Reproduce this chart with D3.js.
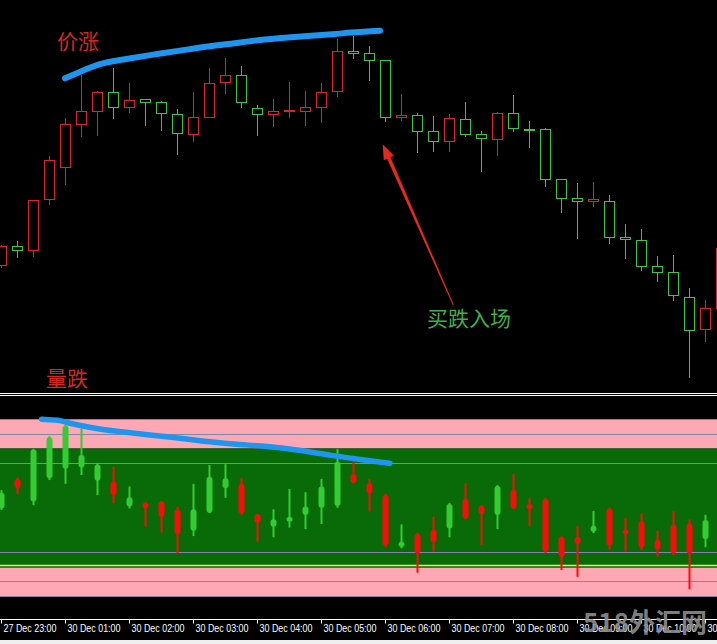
<!DOCTYPE html>
<html><head><meta charset="utf-8">
<script src="https://cdn.jsdelivr.net/npm/d3@7"></script>
<style>html,body{margin:0;padding:0;background:#000;overflow:hidden}svg{display:block}</style>
</head><body><svg id="c" width="717" height="644"></svg>
<script>
// ---------- data ----------
const timeLabels = ["27 Dec 23:00","30 Dec 01:00","30 Dec 02:00","30 Dec 03:00","30 Dec 04:00","30 Dec 05:00",
  "30 Dec 06:00","30 Dec 07:00","30 Dec 08:00","30 Dec 09:00","30 Dec 10:00","30 Dec 11:00"];
const tickIndex = [0,4,8,12,16,20,24,28,32,36,40,44];

const priceOpen  = [1.1135,1.1154,1.1150,1.1201,1.1233,1.1276,1.1289,1.1308,1.1293,1.1301,1.1298,1.1286,1.1266,1.1283,1.1318,1.1325,
  1.1292,1.1286,1.1289,1.1289,1.1293,1.1309,1.1349,1.1347,1.1340,1.1283,1.1285,1.1269,1.1259,1.1281,1.1266,1.1261,1.1287,1.1271,
  1.1271,1.1221,1.1202,1.1199,1.1199,1.1163,1.1160,1.1134,1.1128,1.1103,1.1071,1.1092];
const priceHigh  = [1.1155,1.1159,1.1200,1.1244,1.1282,1.1325,1.1309,1.1332,1.1317,1.1301,1.1299,1.1291,1.1308,1.1332,1.1342,1.1334,
  1.1295,1.1301,1.1318,1.1309,1.1317,1.1361,1.1364,1.1354,1.1340,1.1306,1.1287,1.1284,1.1286,1.1298,1.1269,1.1288,1.1305,1.1279,
  1.1272,1.1221,1.1217,1.1218,1.1205,1.1176,1.1171,1.1144,1.1145,1.1112,1.1100,1.1160];
const priceLow   = [1.1132,1.1142,1.1143,1.1195,1.1215,1.1263,1.1264,1.1281,1.1287,1.1274,1.1269,1.1245,1.1258,1.1283,1.1306,1.1292,
  1.1264,1.1273,1.1282,1.1274,1.1277,1.1303,1.1341,1.1319,1.1278,1.1279,1.1247,1.1248,1.1248,1.1263,1.1228,1.1244,1.1268,1.1252,
  1.1213,1.1187,1.1161,1.1193,1.1156,1.1141,1.1129,1.1118,1.1099,1.1022,1.1058,1.1090];
const priceClose = [1.1154,1.1150,1.1200,1.1240,1.1276,1.1289,1.1308,1.1293,1.1300,1.1298,1.1287,1.1267,1.1283,1.1317,1.1325,1.1298,
  1.1286,1.1289,1.1290,1.1293,1.1308,1.1349,1.1347,1.1340,1.1283,1.1285,1.1269,1.1259,1.1282,1.1266,1.1262,1.1287,1.1272,1.1270,
  1.1221,1.1202,1.1199,1.1201,1.1163,1.1161,1.1134,1.1128,1.1105,1.1070,1.1092,1.1152];

const oscOpen  = [0.50,0.65,1.97,2.38,2.77,1.78,1.46,0.42,0.35,-0.03,-0.31,-0.90,-0.06,1.04,0.99,-0.20,-0.52,-0.40,-0.31,0.03,0.71,1.55,
  0.84,0.48,-1.29,-1.16,-1.55,-1.18,0.12,-0.37,-0.22,0.73,-0.03,-0.05,-1.50,-1.67,-1.24,-0.62,-1.29,-0.90,-1.36,-1.42,-1.55,-1.55,-0.42];
const oscHigh  = [0.59,1.02,1.99,2.42,2.80,2.68,1.51,1.38,0.71,0.19,0.22,0.03,0.80,1.44,1.47,0.99,-0.22,-0.06,0.63,0.52,0.97,1.98,
  1.61,0.97,0.46,-0.57,-0.86,-0.31,0.15,0.82,0.08,0.76,1.13,0.31,0.32,-0.97,-0.62,-0.12,0.00,-0.35,-0.20,-0.79,-0.12,-0.40,-0.25];
const oscLow   = [-0.08,0.45,0.08,0.93,0.80,1.10,0.42,0.14,-0.03,-0.65,-0.85,-1.55,-0.97,-0.19,0.33,-0.25,-1.16,-1.01,-0.68,-0.73,-0.56,-0.01,
  0.82,-0.14,-1.35,-1.38,-2.21,-1.50,-1.01,-0.40,-1.27,-0.73,-0.06,-0.62,-1.55,-2.12,-2.35,-0.87,-1.42,-1.50,-1.44,-1.67,-1.61,-2.77,-1.35];
const oscClose = [-0.03,0.97,0.20,0.99,1.31,1.36,0.91,0.87,0.03,0.16,0.20,-0.08,-0.79,-0.18,0.65,0.80,-0.23,-0.65,-0.48,-0.25,-0.01,0.05,
  1.13,0.82,0.42,-1.33,-0.90,-0.76,-0.71,0.29,0.06,-0.25,0.59,0.11,0.29,-0.99,-0.99,-0.82,-0.03,-0.76,-0.46,-1.10,-0.59,-0.54,-1.08];

const oscGrayLevels = [3, 2.5, 1.5, -1.5, -2.5, -3];
const oscYellowLevel = -1.95;
const oscBand = [2.0, -2.04];

// annotations (index, value)
const priceTrendLine = [[4.0,1.13217],[4.94,1.13283],[6.19,1.13367],[7.44,1.1340],[9.31,1.1345],[11.19,1.13493],[13.06,1.1354],
  [14.94,1.13573],[16.38,1.13607],[18.5,1.13633],[21,1.1366],[21.63,1.13673],[23.69,1.13693]];
const oscTrendLine = [[2.54,2.99],[3.69,2.97],[4.11,2.87],[5.36,2.74],[6.19,2.65],[7.44,2.57],[9.31,2.46],[11.19,2.35],[13.06,2.22],
  [14.94,2.13],[16.6,2.08],[18.48,1.96],[20.56,1.77],[22.64,1.61],[24.31,1.50]];
const arrowTip = [23.86, 1.12557], arrowTail = [28.27, 1.1095];

// ---------- drawing ----------
const W = 717, H = 644;
const svg = d3.select("#c");
svg.append("rect").attr("width",W).attr("height",H).attr("fill","#000");

const x = d3.scaleLinear().domain([0,45]).range([1,721]);
const y = d3.scaleLinear().domain([1.1000,1.1400]).range([400,0]);
const yo = d3.scaleLinear().domain([-3,3]).range([596,419]);

const RED = "#d8262a", GREEN = "#3fc43f";
const candles = d3.range(priceOpen.length).map(i => ({i, o:priceOpen[i], h:priceHigh[i], l:priceLow[i], c:priceClose[i]}));

const gTop = svg.append("g");
const cg = gTop.selectAll("g.cdl").data(candles).join("g");
const px = v => Math.round(v) + 0.5;
cg.append("line")
  .attr("x1", d => Math.round(x(d.i)) + 0.5).attr("x2", d => Math.round(x(d.i)) + 0.5)
  .attr("y1", d => Math.round(y(d.h))).attr("y2", d => Math.round(y(d.l)))
  .attr("stroke", d => d.c >= d.o ? RED : GREEN).attr("stroke-width",1);
cg.append("rect")
  .attr("x", d => Math.round(x(d.i)) - 4.5).attr("width", 10)
  .attr("y", d => px(y(Math.max(d.o,d.c))))
  .attr("height", d => Math.max(1, Math.round(y(Math.min(d.o,d.c))) - Math.round(y(Math.max(d.o,d.c)))))
  .attr("fill","#000").attr("stroke", d => d.c >= d.o ? RED : GREEN).attr("stroke-width",1);

// separator lines
[393.5, 395.5].forEach(v => svg.append("line").attr("x1",0).attr("x2",W).attr("y1",v).attr("y2",v).attr("stroke","#fff").attr("stroke-width",1));

// oscillator panel
const bot = svg.append("g");
bot.append("rect").attr("x",0).attr("width",W).attr("y",yo(3)).attr("height",yo(oscBand[0])-yo(3)).attr("fill","#ffa8b5");
bot.append("rect").attr("x",0).attr("width",W).attr("y",yo(oscBand[0])).attr("height",yo(oscBand[1])-yo(oscBand[0])).attr("fill","#086b08");
bot.append("rect").attr("x",0).attr("width",W).attr("y",yo(oscBand[1])).attr("height",yo(-3)-yo(oscBand[1])).attr("fill","#ffa8b5");
bot.selectAll("line.lvl").data(oscGrayLevels).join("line")
  .attr("x1",0).attr("x2",W).attr("y1",d=>px(yo(d))).attr("y2",d=>px(yo(d)))
  .attr("stroke","#7f86a6").attr("stroke-width",1);
bot.append("line").attr("x1",0).attr("x2",W).attr("y1",px(yo(oscYellowLevel))).attr("y2",px(yo(oscYellowLevel)))
  .attr("stroke","#e4f35c").attr("stroke-width",1.3);

const OR = "#ff0a0a", OG = "#33cc33";
const osc = d3.range(oscOpen.length).map(i => ({i, o:oscOpen[i], h:oscHigh[i], l:oscLow[i], c:oscClose[i]}));
const og = bot.selectAll("g.osc").data(osc).join("g");
og.append("rect")
  .attr("x", d => Math.round(x(d.i)) - 0.5).attr("width", 2)
  .attr("y", d => yo(d.h)).attr("height", d => yo(d.l) - yo(d.h))
  .attr("fill", d => d.c >= d.o ? OR : OG);
og.append("rect")
  .attr("x", d => Math.round(x(d.i)) - 2.5).attr("width", 6).attr("rx", 3)
  .attr("y", d => yo(Math.max(d.o,d.c))).attr("height", d => Math.max(4, yo(Math.min(d.o,d.c)) - yo(Math.max(d.o,d.c))))
  .attr("fill", d => d.c >= d.o ? OR : OG);

// x axis
svg.append("line").attr("x1",0).attr("x2",W).attr("y1",619.5).attr("y2",619.5).attr("stroke","#fff");
const ax = svg.append("g").attr("transform","translate(0,619.5)")
  .call(d3.axisBottom(x).tickValues(tickIndex).tickFormat((d,i)=>timeLabels[i]).tickSize(4).tickSizeOuter(0));
ax.select(".domain").remove();
ax.selectAll(".tick line").attr("stroke","#fff");
ax.selectAll(".tick text").attr("fill","#fff").attr("text-anchor","start").attr("x",2).attr("y",5).attr("dy","0.71em")
  .attr("font-family","Liberation Sans, Arial, sans-serif").attr("font-size","10.5px")
  .attr("textLength",53).attr("lengthAdjust","spacingAndGlyphs");

// annotations
const BLUE = "#1e96f0";
const lineGen = (ys) => d3.line().x(d=>x(d[0])).y(d=>ys(d[1])).curve(d3.curveBasis);
svg.append("path").attr("d", lineGen(y)(priceTrendLine)).attr("fill","none").attr("stroke",BLUE)
  .attr("stroke-width",6).attr("stroke-linecap","round").attr("stroke-linejoin","round");
svg.append("path").attr("d", lineGen(yo)(oscTrendLine)).attr("fill","none").attr("stroke",BLUE)
  .attr("stroke-width",5.5).attr("stroke-linecap","round").attr("stroke-linejoin","round");

// arrow
(function(){
  const T = [x(arrowTip[0]), y(arrowTip[1])], S = [x(arrowTail[0]), y(arrowTail[1])];
  const dx = T[0]-S[0], dy = T[1]-S[1], L = Math.hypot(dx,dy);
  const u = [dx/L, dy/L], n = [-u[1], u[0]];
  const hl = 15, hw = 5.5, sw0 = 0.5, sw1 = 1.8;
  const B = [T[0]-u[0]*hl, T[1]-u[1]*hl];
  const p = (P, k) => [P[0]+n[0]*k, P[1]+n[1]*k];
  const pts = [p(S,sw0), p(B,sw1), p(B,hw), T, p(B,-hw), p(B,-sw1), p(S,-sw0)];
  svg.append("polygon").attr("points", pts.map(q=>q.join(",")).join(" ")).attr("fill","#e8281e");
})();

const cjk = "'Noto Sans CJK SC', 'Noto Sans', sans-serif";
svg.append("text").attr("x",57).attr("y",49).text("价涨").attr("font-family",cjk).attr("font-size","21px").attr("fill","#cf2b24");
svg.append("text").attr("x",46).attr("y",386).text("量跌").attr("font-family",cjk).attr("font-size","21px").attr("fill","#cf2b24");
svg.append("text").attr("x",427).attr("y",326).text("买跌入场").attr("font-family",cjk).attr("font-size","21px").attr("fill","#3fae49");

// bottom strip & watermark
svg.append("rect").attr("x",0).attr("y",640).attr("width",W).attr("height",4).attr("fill","#efefef");
svg.append("text").attr("x",583).attr("y",632).text("518外汇网").attr("font-family",cjk).attr("font-weight","bold")
  .attr("font-size","26px").attr("fill","#8c8c8c").attr("fill-opacity",0.92);
</script>
</body></html>
